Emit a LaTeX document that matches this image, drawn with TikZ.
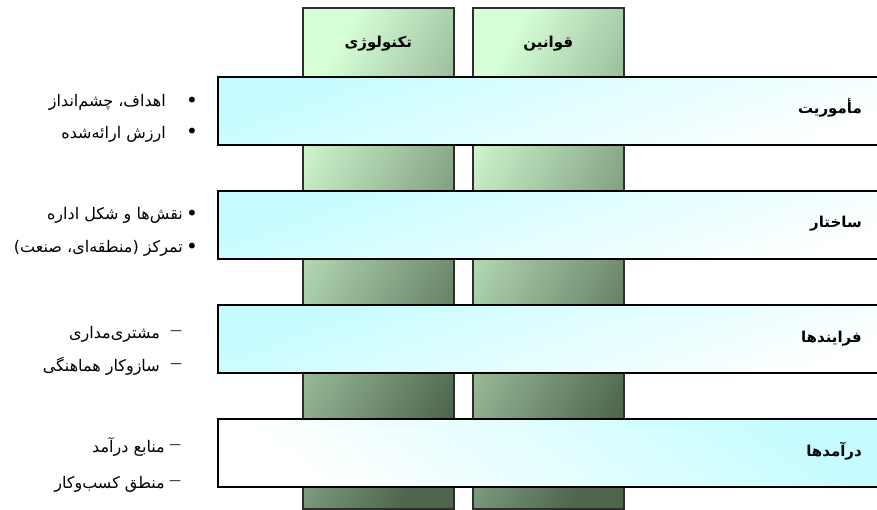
\documentclass[tikz,border=0pt]{standalone}
\usepackage{fontspec}
\newfontfamily\fa[Script=Arabic]{DejaVu Sans}
\newfontfamily\symfont{DejaVu Sans}
\TeXXeTstate=1
\definecolor{colL}{HTML}{D6FFD6}
\definecolor{colD}{HTML}{4E664E}
\definecolor{bandC}{HTML}{C4FCFF}
\definecolor{colEdge}{HTML}{2E2E2E}
\begin{document}
\begin{tikzpicture}[x=1pt,y=-1pt,
  colbox/.style={draw=colEdge, line width=1.6pt, top color=colL, bottom color=colD, shading angle=62,
    minimum width=151pt, minimum height=501pt, anchor=north west, inner sep=0pt},
  bandbox/.style={draw=black, line width=1.7pt, top color=bandC, bottom color=white, shading angle=20,
    minimum width=680pt, minimum height=68pt, anchor=north west, inner sep=0pt},
  bandboxb/.style={bandbox, shading angle=-35},
  head/.style={font=\fa\bfseries\fontsize{15}{17}\selectfont, anchor=base, inner sep=0pt},
  bandlabel/.style={font=\fa\bfseries\fontsize{15}{17}\selectfont, anchor=base east, inner sep=0pt},
  item/.style={font=\fa\fontsize{16}{18}\selectfont, anchor=base east, inner sep=0pt},
  bul/.style={font=\symfont\fontsize{20}{22}\selectfont, inner sep=0pt},
  dsh/.style={font=\symfont\fontsize{12}{14}\selectfont, inner sep=0pt}
]
\useasboundingbox (0,0) rectangle (877,510);
\clip (0,0) rectangle (877,510);
% columns
\node[colbox] (tech) at (302,7) {};
\node[colbox] (law) at (472,7) {};
\node[head] (techH) at (tech.north |- 0,48) {\beginR تکنولوژی\endR};
\node[head] (lawH) at (law.north |- 0,48) {\beginR قوانین\endR};
% bands
\node[bandbox] (b1) at (217,76) {};
\node[bandbox] (b2) at (217,190) {};
\node[bandbox] (b3) at (217,304) {};
\node[bandboxb] (b4) at (217,418) {};
\node[bandlabel] (l1) at (862,114) {\beginR مأموریت\endR};
\node[bandlabel] (l2) at (862,228) {\beginR ساختار\endR};
\node[bandlabel] (l3) at (862,342) {\beginR فرایندها\endR};
\node[bandlabel] (l4) at (862,456) {\beginR درآمدها\endR};
% group 1
\node[bul] (p1) at (192,102) {•};
\node[bul] (p2) at (192,133) {•};
\node[item] (t1) at (166,107) {\beginR اهداف، چشم^^^^200cانداز\endR};
\node[item] (t2) at (166,139) {\beginR ارزش ارائه^^^^200cشده\endR};
% group 2
\node[bul] (p3) at (192,215) {•};
\node[bul] (p4) at (192,248) {•};
\node[item] (t3) at (183,220) {\beginR نقش^^^^200cها و شکل اداره\endR};
\node[item] (t4) at (183,253) {\beginR تمرکز (منطقه^^^^200cای، صنعت)\endR};
% group 3
\node[dsh] (d1) at (176,333) {—};
\node[dsh] (d2) at (176,366) {—};
\node[item] (t5) at (160,338) {\beginR مشتری^^^^200cمداری\endR};
\node[item] (t6) at (160,371) {\beginR سازوکار هماهنگی\endR};
% group 4
\node[dsh] (d3) at (175,447) {—};
\node[dsh] (d4) at (175,483) {—};
\node[item] (t7) at (165,452) {\beginR منابع درآمد\endR};
\node[item] (t8) at (165,488) {\beginR منطق کسب^^^^200cوکار\endR};
\end{tikzpicture}
\end{document}
